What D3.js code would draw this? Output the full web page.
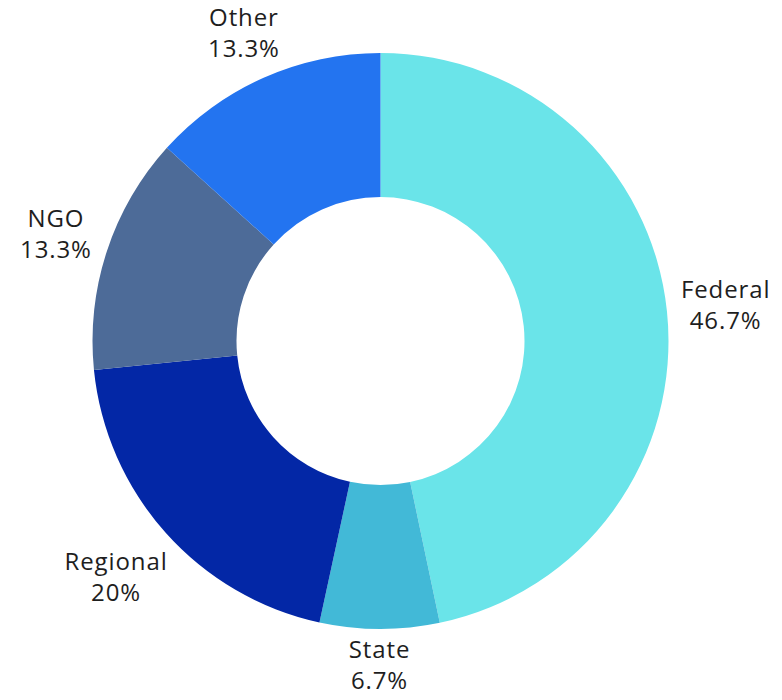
<!DOCTYPE html>
<html><head><meta charset="utf-8">
<script src="https://cdn.jsdelivr.net/npm/d3@7"></script>
<style>html,body{margin:0;padding:0;background:#fff;}</style>
</head><body>
<svg id="chart" width="782" height="700"></svg>
<script>
const categories = ["Federal", "State", "Regional", "NGO", "Other"];
const values = [46.7, 6.7, 20, 13.3, 13.3];
const labels = ["46.7%", "6.7%", "20%", "13.3%", "13.3%"];
const colors = ["#6AE4E9", "#42B9D7", "#0327A6", "#4D6B98", "#2374F0"];

const svg = d3.select("#chart");
const cx = 380.5, cy = 341, outerR = 288, innerR = 144;
const g = svg.append("g").attr("transform", `translate(${cx},${cy})`);

const data = categories.map((c, i) => ({cat: c, value: values[i], label: labels[i], color: colors[i]}));
const pie = d3.pie().value(d => d.value).sort(null);
const arc = d3.arc().innerRadius(innerR).outerRadius(outerR);
const arcs = pie(data);

g.selectAll("path").data(arcs).join("path")
  .attr("d", arc).attr("fill", d => d.data.color);

const fontSize = 24, lineH = 31, R = 300, capH = 0.714 * fontSize;
const lg = g.selectAll("g.lab").data(arcs).join("g").attr("class", "lab");
lg.each(function(d) {
  const sel = d3.select(this);
  const t = sel.append("text").attr("text-anchor", "middle")
    .style("font-family", "'Open Sans', sans-serif").style("font-size", fontSize + "px")
    .style("letter-spacing", "0.9px").attr("fill", "#1e1e1e");
  t.append("tspan").attr("x", 0).attr("y", 0).text(d.data.cat);
  t.append("tspan").attr("x", 0).attr("y", lineH).text(d.data.label);
  const bb = t.node().getBBox();
  const h = capH + lineH;
  const a = (d.startAngle + d.endAngle) / 2;
  const ux = Math.sin(a), uy = -Math.cos(a);
  const dist = R + Math.abs(ux) * bb.width / 2 + Math.abs(uy) * h / 2;
  const ccx = ux * dist, ccy = uy * dist;
  const bx = bb.x + bb.width / 2, by = -capH + h / 2;
  sel.attr("transform", `translate(${ccx - bx},${ccy - by})`);
});
</script>
</body></html>
